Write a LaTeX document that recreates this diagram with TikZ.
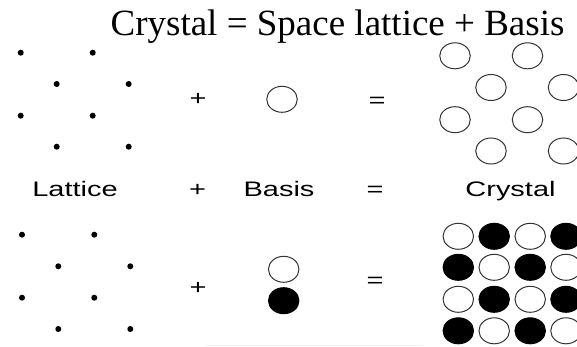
\documentclass[tikz,border=0pt]{standalone}
\usepackage{fontspec}
\setmainfont{Liberation Serif}
\newfontfamily\labfont[FakeStretch=1.38]{Liberation Sans}
\usetikzlibrary{shapes.geometric}
\begin{document}
\begin{tikzpicture}[x=1pt,y=-1pt,
  latdot/.style={circle,fill=black,inner sep=0pt,minimum size=6pt},
  atom/.style={ellipse,draw=black!80,line width=1pt,inner sep=0pt,minimum width=30.5pt,minimum height=26pt,fill=white},
  batom/.style={atom,fill=black,draw=black},
  lab/.style={font=\labfont\fontsize{21}{21}\selectfont,anchor=base,inner sep=0pt},
  ttl/.style={font=\fontsize{37}{42}\selectfont,anchor=base,inner sep=0pt}]
\useasboundingbox (0,0) rectangle (577,347);
% title
\node[ttl] (title) at (337.5,36) {Crystal = Space lattice + Basis};
% top lattice
\foreach \r/\y in {1/52.7,3/115.7}{
  \node[latdot] (ta\r a) at (20.7,\y) {};
  \node[latdot] (ta\r b) at (92.7,\y) {};}
\foreach \r/\y in {2/84,4/146.7}{
  \node[latdot] (ta\r a) at (56.7,\y) {};
  \node[latdot] (ta\r b) at (128.7,\y) {};}
\node[lab] (tplus) at (198,105.7) {+};
\node[atom] (tbasis) at (282,99.3) {};
\node[lab] (teq) at (377,107.4) {=};
% top crystal
\foreach \r/\y in {1/55.8,3/119.7}{
  \node[atom] (tc\r a) at (455,\y) {};
  \node[atom] (tc\r b) at (527.5,\y) {};}
\foreach \r/\y in {2/87.5,4/151}{
  \node[atom] (tc\r a) at (491,\y) {};
  \node[atom] (tc\r b) at (563.5,\y) {};}
% labels
\node[lab] (llat) at (75,196.5) {Lattice};
\node[lab] (lplus) at (197.5,196.5) {+};
\node[lab] (lbas) at (279,196.5) {Basis};
\node[lab] (leq) at (375,196.5) {=};
\node[lab] (lcry) at (510.5,196.5) {Crystal};
% bottom lattice
\foreach \r/\y in {1/234.7,3/297.7}{
  \node[latdot] (ba\r a) at (22,\y) {};
  \node[latdot] (ba\r b) at (94.3,\y) {};}
\foreach \r/\y in {2/266.3,4/329}{
  \node[latdot] (ba\r a) at (58.3,\y) {};
  \node[latdot] (ba\r b) at (130.3,\y) {};}
\node[lab] (bplus) at (198,294) {+};
\node[atom] (bbw) at (283.7,269.3) {};
\node[batom] (bbb) at (283.7,300.7) {};
\node[lab] (beq) at (375,287.4) {=};
% bottom crystal
\foreach \r/\y in {1/236.3,3/299.3}{
  \node[atom] (bc\r a) at (458.3,\y) {};
  \node[batom] (bc\r b) at (494.2,\y) {};
  \node[atom] (bc\r c) at (530.2,\y) {};
  \node[batom] (bc\r d) at (566,\y) {};}
\foreach \r/\y in {2/267.3,4/330.8}{
  \node[batom] (bc\r a) at (458.3,\y) {};
  \node[atom] (bc\r b) at (494.2,\y) {};
  \node[batom] (bc\r c) at (530.2,\y) {};
  \node[atom] (bc\r d) at (566,\y) {};}
% faint shadow line
\draw[black!5,line width=1.5pt] (206,345.5) -- (423,345.5);
\end{tikzpicture}
\end{document}
